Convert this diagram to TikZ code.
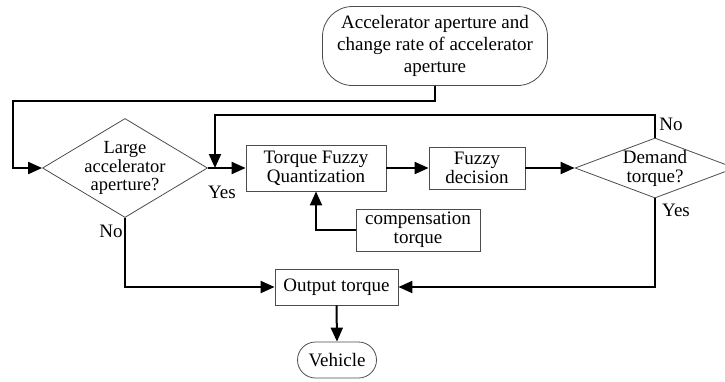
\documentclass[tikz,border=0pt]{standalone}
\usepackage{fontspec}
\setmainfont{Liberation Serif}
\usetikzlibrary{shapes.geometric,arrows.meta}

\begin{document}
\begin{tikzpicture}[x=1pt,y=-1pt,
    every node/.style={font=\fontsize{19}{19}\selectfont},
    box/.style={draw=black!70,line width=0.8pt,align=center,inner sep=0pt},
    decision/.style={draw=black!70,line width=0.8pt,diamond,align=center,inner sep=-14pt},
    flow/.style={line width=2pt,-{Triangle[length=14pt,width=12pt]}}]
  \useasboundingbox (0,0) rectangle (725,381);
  % blocks
  \node[box,rounded corners=30pt,minimum width=225pt,minimum height=79pt,font=\fontsize{19}{22}\selectfont] (start) at (435,46) {Accelerator aperture and\\change rate of accelerator\\aperture};
  \node[decision,minimum width=165pt,minimum height=99pt,font=\fontsize{18.5}{18.5}\selectfont] (large) at (125,168) {Large\\accelerator\\aperture?};
  \node[box,minimum width=140pt,minimum height=46pt] (quant) at (316,168) {Torque Fuzzy\\Quantization};
  \node[box,minimum width=96pt,minimum height=42pt] (fuzzy) at (477,168) {Fuzzy\\decision};
  \node[decision,minimum width=160pt,minimum height=60pt] (demand) at (655,168) {Demand\\torque?};
  \node[box,minimum width=124pt,minimum height=42pt] (comp) at (418,230) {compensation\\torque};
  \node[box,minimum width=123pt,minimum height=36pt] (out) at (336.5,287) {Output torque};
  \node[box,rounded corners=18pt,minimum width=79pt,minimum height=36pt] (veh) at (337,360) {Vehicle};
  % labels
  \node (yesA) at (222,192) {Yes};
  \node (noA) at (111,231) {No};
  \node (noB) at (671,124) {No};
  \node (yesB) at (676,210) {Yes};
  % connectors
  \coordinate (tl) at (13,101);
  \coordinate (tr) at (215,115);
  \coordinate (jn) at (215,168);
  \draw[flow] (start.south) |- (tl) |- (large.west);
  \draw[flow] (large.east) -- (quant.west);
  \draw[flow] (demand.north) |- (tr) -- (jn);
  \draw[flow] (quant.east) -- (fuzzy.west);
  \draw[flow] (fuzzy.east) -- (demand.west);
  \draw[flow] (comp.west) -| (quant.south);
  \draw[flow] (large.south) |- (out.west);
  \draw[flow] (demand.south) |- (out.east);
  \draw[flow] (out.south) -- (veh.north);
\end{tikzpicture}
\end{document}
